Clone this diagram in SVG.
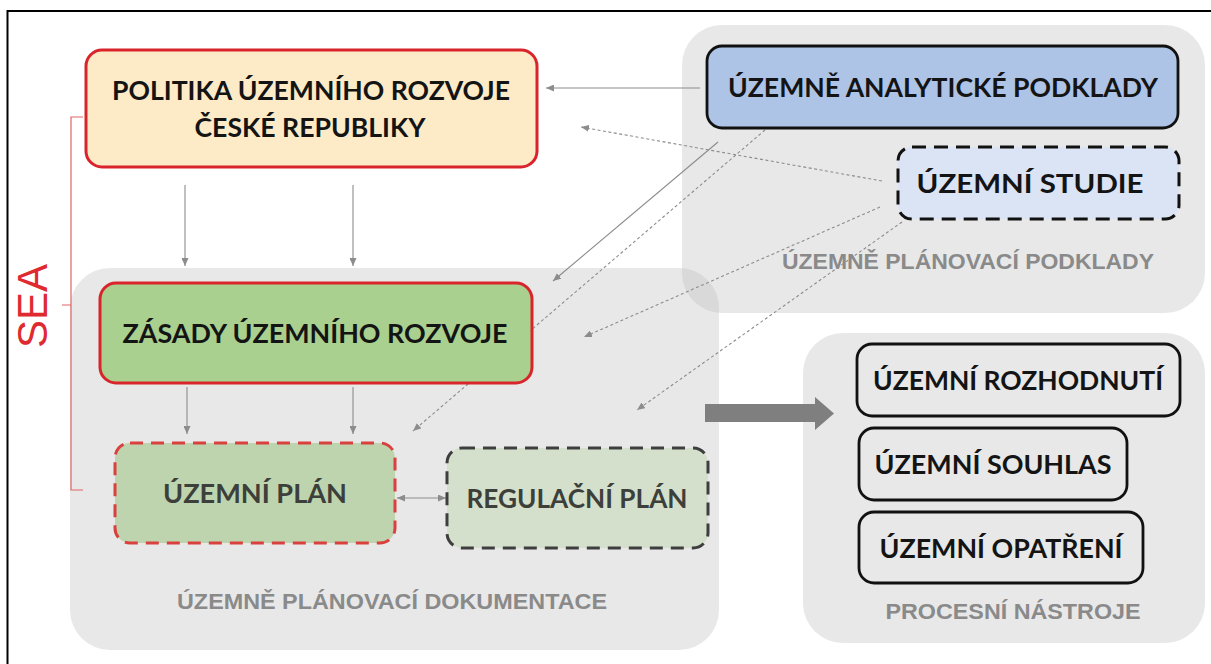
<svg xmlns="http://www.w3.org/2000/svg" width="1211" height="664" viewBox="0 0 1211 664">
<style>
.panel{fill:#bdbdbd;fill-opacity:0.35}
.t{font-family:Lato,"Open Sans","Liberation Sans",sans-serif;font-weight:700;font-size:27px;text-anchor:middle;fill:#141414}
.tg{fill:#3c3f3a}
.lbl{font-family:"Liberation Sans",Arial,sans-serif;font-weight:700;font-size:22px;text-anchor:middle;fill:#8a8a8a}
.c{stroke:#8c8c8c;stroke-width:1.1;fill:none}
.d{stroke-dasharray:3 2.5}
.red{stroke:#d8242a;stroke-width:3}
.blk{stroke:#111;stroke-width:2.8}
</style>
<defs>
<marker id="ah" markerUnits="userSpaceOnUse" markerWidth="8" markerHeight="7" refX="8" refY="3.5" orient="auto-start-reverse">
<path d="M0,0 L8,3.5 L0,7 z" fill="#8c8c8c"/>
</marker>
</defs>
<rect x="7.5" y="11" width="1212" height="662" fill="none" stroke="#000" stroke-width="2"/>
<g id="panels">
<rect id="panel-upp" class="panel" x="682" y="25" width="523" height="288" rx="40"/>
<rect id="panel-upd" class="panel" x="70" y="268" width="649" height="382" rx="40"/>
<rect id="panel-pn" class="panel" x="803" y="333" width="402" height="310" rx="40"/>
<text class="lbl" x="968" y="269" textLength="372" lengthAdjust="spacingAndGlyphs">ÚZEMNĚ PLÁNOVACÍ PODKLADY</text>
<text class="lbl" x="392" y="609" textLength="430" lengthAdjust="spacingAndGlyphs">ÚZEMNĚ PLÁNOVACÍ DOKUMENTACE</text>
<text class="lbl" x="1013" y="619" textLength="255" lengthAdjust="spacingAndGlyphs">PROCESNÍ NÁSTROJE</text>
</g>
<g id="sea">
<path d="M83,117 H71 V490 H83 M71,305 H62" fill="none" stroke="#e06464" stroke-width="1.2"/>
<text transform="translate(47,306) rotate(-90)" font-family="'Liberation Sans',Arial,sans-serif" font-size="42" text-anchor="middle" fill="#df2a30">SEA</text>
</g>
<g id="connectors">
<path class="c" d="M700,88 H546" marker-end="url(#ah)"/>
<path class="c" d="M185,185 V266" marker-end="url(#ah)"/>
<path class="c" d="M353,185 V266" marker-end="url(#ah)"/>
<path class="c" d="M187,387 V434" marker-end="url(#ah)"/>
<path class="c" d="M353,387 V434" marker-end="url(#ah)"/>
<path class="c" d="M397,498 H446" marker-start="url(#ah)" marker-end="url(#ah)"/>
<path class="c" d="M718,142 L553,281" marker-end="url(#ah)"/>
<path class="c d" d="M765,130 L413,431" marker-end="url(#ah)"/>
<path class="c d" d="M882,181 L581,127" marker-end="url(#ah)"/>
<path class="c d" d="M880,207 L584,337" marker-end="url(#ah)"/>
<path class="c d" d="M902,222 L637,410" marker-end="url(#ah)"/>
<polygon points="705,404 815,404 815,397 834,413.5 815,430 815,422 705,422" fill="#7f7f7f"/>
</g>
<g id="n-pur">
<rect x="86" y="50" width="451" height="117" rx="16" fill="#fdebc7" class="red"/>
<text class="t" x="311" y="100" textLength="398" lengthAdjust="spacingAndGlyphs">POLITIKA ÚZEMNÍHO ROZVOJE</text>
<text class="t" x="310" y="137" textLength="231" lengthAdjust="spacingAndGlyphs">ČESKÉ REPUBLIKY</text>
</g>
<g id="n-zur">
<rect x="100" y="283" width="432" height="100" rx="16" fill="#a9d08e" class="red"/>
<text class="t" x="315" y="343" textLength="385" lengthAdjust="spacingAndGlyphs">ZÁSADY ÚZEMNÍHO ROZVOJE</text>
</g>
<g id="n-uap">
<rect x="707" y="46" width="471" height="82" rx="15" fill="#aec4e6" class="blk"/>
<text class="t" x="943" y="97" textLength="430" lengthAdjust="spacingAndGlyphs">ÚZEMNĚ ANALYTICKÉ PODKLADY</text>
</g>
<g id="n-us">
<rect x="898" y="147" width="281" height="72" rx="14" fill="#dbe4f4" stroke="#111" stroke-width="3" stroke-dasharray="14 8"/>
<text class="t" x="1030" y="193" textLength="227" lengthAdjust="spacingAndGlyphs">ÚZEMNÍ STUDIE</text>
</g>
<g id="n-up">
<rect x="115" y="443" width="280" height="100" rx="15" fill="#bed4ae" stroke="#d9413f" stroke-width="3" stroke-dasharray="13 8"/>
<text class="t tg" x="255" y="503" textLength="184" lengthAdjust="spacingAndGlyphs">ÚZEMNÍ PLÁN</text>
</g>
<g id="n-rp">
<rect x="447" y="448" width="261" height="100" rx="15" fill="#d4e0cb" stroke="#3e3e3e" stroke-width="3" stroke-dasharray="13 8"/>
<text class="t tg" x="577" y="508" textLength="221" lengthAdjust="spacingAndGlyphs">REGULAČNÍ PLÁN</text>
</g>
<g id="n-ur">
<rect x="857" y="344" width="323" height="72" rx="15" fill="none" class="blk"/>
<text class="t" x="1018" y="390" textLength="290" lengthAdjust="spacingAndGlyphs">ÚZEMNÍ ROZHODNUTÍ</text>
</g>
<g id="n-us2">
<rect x="859" y="428" width="268" height="72" rx="15" fill="none" class="blk"/>
<text class="t" x="993" y="474" textLength="237" lengthAdjust="spacingAndGlyphs">ÚZEMNÍ SOUHLAS</text>
</g>
<g id="n-uo">
<rect x="859" y="512" width="284" height="71" rx="15" fill="none" class="blk"/>
<text class="t" x="1001" y="558" textLength="243" lengthAdjust="spacingAndGlyphs">ÚZEMNÍ OPATŘENÍ</text>
</g>
</svg>
